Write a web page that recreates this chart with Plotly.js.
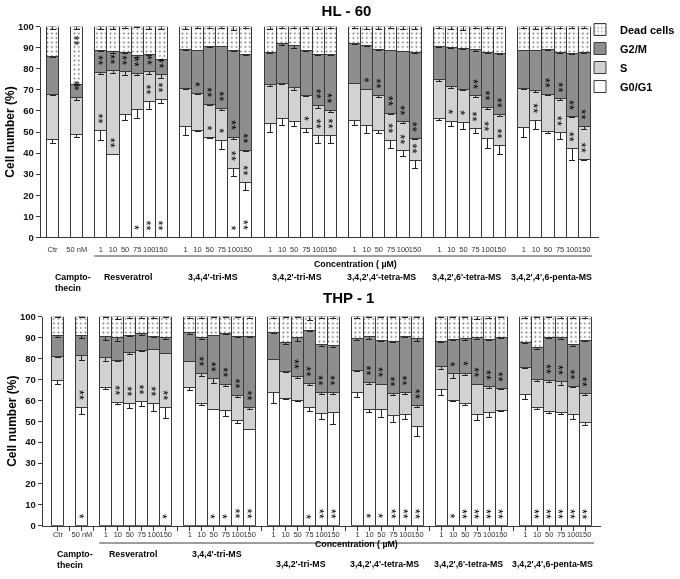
<!DOCTYPE html>
<html><head><meta charset="utf-8">
<script src="https://cdn.plot.ly/plotly-3.0.1.min.js"></script>
<style>html,body{margin:0;padding:0;background:#fff}#chart{width:680px;height:579px;filter:grayscale(100%)}</style>
</head><body><div id="chart"></div>
<script>
// ---------- categories ----------
const concentrations = ['1','10','50','75','100','150'];
const groupConcs = [['Ctr'], ['50 nM'], concentrations, concentrations, concentrations, concentrations, concentrations, concentrations];
const groupLabels = ['', 'Campto-<br>thecin', 'Resveratrol', "3,4,4'-tri-MS", "3,4,2'-tri-MS", "3,4,2',4'-tetra-MS", "3,4,2',6'-tetra-MS", "3,4,2',4',6-penta-MS"];
const phaseNames = ['G0/G1', 'S', 'G2/M', 'Dead cells'];

// ---------- HL-60 (% of cells per phase) ----------
const hl60_G0  = [46.5,48.9,50.5,39.4,58.5,60.9,64.6,65.5,52.5,50.5,47.5,46.2,32.8,25.9,54.1,56.5,54.9,51.7,48.3,48.3,55.7,53.0,50.9,45.9,41.1,36.7,56.2,54.9,54.4,51.7,47.0,43.5,52.1,55.4,50.2,49.8,42.2,37.0];
const hl60_S   = [21.1,17.4,27.7,39.7,20.1,16.9,14.0,11.6,18.2,17.9,15.6,15.0,14.7,15.2,18.5,16.6,16.1,15.5,14.2,12.1,17.4,17.3,16.3,13.0,13.8,10.3,18.8,16.6,16.0,15.4,14.6,14.6,18.6,14.5,17.7,15.9,15.1,15.8];
const hl60_G2M = [18.4,6.3,10.7,9.0,9.2,8.3,8.3,7.4,18.5,20.5,27.4,29.6,41.1,45.5,15.2,18.7,20.3,21.4,24.4,26.2,18.7,20.7,22.0,30.0,33.5,40.8,15.5,18.5,19.3,22.1,26.2,29.2,18.2,19.0,21.5,22.1,30.0,35.0];
const hl60_Dead= [14.0,27.4,11.1,11.9,12.2,13.9,13.1,15.5,10.8,11.1,9.5,9.2,11.4,13.4,12.2,8.2,8.7,11.4,13.1,13.4,8.2,9.0,10.8,11.1,11.6,12.2,9.5,10.0,10.3,10.8,12.2,12.7,11.1,11.1,10.6,12.2,12.7,12.2];
const hl60_errG0  = [1.9,1.4,4.6,0.3,3.2,4.6,3.8,2.2,4.3,0.3,0.5,4.3,4.0,3.5,4.4,3.6,2.4,1.9,3.6,3.6,2.5,3.6,1.6,3.6,2.8,4.0,0.5,2.4,3.2,2.4,4.7,4.0,4.7,4.4,0.8,3.3,5.5,0.3];
const hl60_errS   = [0.5,1.3,1.1,1.3,2.0,0.8,1.1,1.6,0.3,0.8,0.3,0.8,0.9,0.5,0.8,0.5,1.1,0.5,1.3,1.1,0.3,0.3,0.8,0.4,0.8,0.5,1.1,0.8,0.5,0.8,0.8,0.8,0.5,1.1,0.6,0.9,0.3,1.4];
const hl60_errG2M = [0.5,0.5,0.6,0.8,0.5,0.5,0.6,0.5,0.4,0.3,0.3,0.3,0.5,0.4,0.5,0.5,1.6,0.5,0.6,0.5,0.3,0.4,0.3,0.3,0.4,0.4,0.3,0.4,0.4,0.8,0.3,0.4,0.3,0.3,0.8,0.3,0.4,0.4];
const hl60_errDead= [1.5,1.5,1.5,1.2,1.0,0.3,1.3,1.3,1.5,1.0,1.0,1.0,1.8,1.0,1.3,1.0,1.0,0.8,1.3,1.0,1.0,1.3,1.3,1.0,1.5,1.2,0.8,1.3,1.6,1.0,1.0,1.0,1.0,1.3,1.0,1.0,1.0,1.0];
const hl60_sigG0  = ['','','','','','*','**','**','','','','','*','**','','','','','','','','','','','','','','','','','','','','','','','',''];
const hl60_sigS   = ['','','**','**','','','**','**','','','*','*','**','**','','','','*','**','**','','','','**','**','**','','*','*','**','**','**','','**','','**','**','**'];
const hl60_sigG2M = ['','**','**','**','**','**','**','**','','*','**','**','**','**','','','','','**','**','','*','**','**','**','**','','','','**','**','**','','','**','**','**','**'];
const hl60_sigDead= ['','**','','','','','','','','','','','','','','','','','','','','','','','','','','','','','','','','','','','',''];

// ---------- THP-1 ----------
const thp1_G0  = [69.4,56.6,66.0,58.9,58.5,59.3,58.5,56.6,66.0,58.5,55.8,55.0,50.1,46.1,63.8,60.9,59.8,56.6,53.7,54.2,63.8,55.8,55.8,52.6,53.3,47.4,65.2,60.1,58.5,53.3,54.1,55.0,62.8,56.5,54.5,54.2,53.0,49.4];
const thp1_S   = [11.5,24.7,14.4,20.0,24.4,24.4,25.9,25.9,12.8,14.4,14.4,12.6,12.1,10.4,15.8,12.8,11.8,11.5,10.1,9.6,10.7,12.8,12.0,10.7,10.5,10.0,10.9,12.5,14.4,14.5,12.4,10.7,13.0,13.5,14.9,14.7,13.8,13.9];
const thp1_G2M = [10.0,9.9,10.0,11.2,8.0,8.3,6.0,7.5,13.7,17.2,21.0,24.4,28.2,33.9,12.9,13.9,18.5,25.5,23.1,22.2,15.1,22.1,21.0,24.7,26.6,32.2,11.9,16.6,16.7,22.2,22.7,24.4,11.9,15.3,20.7,21.2,20.0,25.5];
const thp1_Dead= [9.1,8.8,9.6,9.9,9.1,8.0,9.6,10.0,7.5,9.9,8.8,8.0,9.6,9.6,7.5,12.4,9.9,6.4,13.1,14.0,10.4,9.3,11.2,12.0,9.6,10.4,12.0,10.8,10.4,10.0,10.8,9.9,12.3,14.7,9.9,9.9,13.2,11.2];
const thp1_errG0  = [1.6,3.2,0.6,0.8,2.4,2.4,3.7,5.3,1.4,0.8,0.3,2.6,1.1,0.3,5.3,0.3,0.5,1.8,2.7,5.7,2.6,1.6,4.1,3.2,2.7,4.8,2.7,0.8,0.8,3.0,2.4,0.3,2.4,0.8,0.8,0.8,2.4,1.3];
const thp1_errS   = [0.5,2.1,1.6,0.3,1.0,0.3,0.3,0.3,0.3,1.6,2.1,1.1,1.0,1.1,0.3,0.3,1.4,0.8,0.8,1.0,0.8,0.8,0.3,0.8,1.0,0.8,1.3,2.1,0.8,0.3,0.8,0.3,0.5,1.1,0.8,1.6,0.8,0.8];
const thp1_errG2M = [1.0,1.6,1.6,1.8,0.6,0.8,0.5,0.8,1.0,1.0,0.3,0.3,0.5,0.5,0.5,0.8,1.8,0.5,1.3,0.8,0.8,1.4,0.5,0.5,0.5,1.3,0.5,0.8,1.1,0.8,0.8,0.5,0.3,0.8,0.3,1.0,1.1,0.8];
const thp1_errDead= [0.5,0.5,0.5,1.5,1.0,1.0,1.0,0.5,1.0,1.0,0.5,0.5,0.5,1.0,1.0,0.5,0.5,1.6,1.0,1.0,0.8,0.5,0.5,0.5,0.5,0.3,0.5,0.5,0.5,1.1,1.0,0.3,0.8,0.3,0.3,0.8,0.8,0.8];
const thp1_sigG0  = ['','*','','','','','','*','','','*','*','**','**','','','','*','**','**','','*','*','**','**','**','','*','**','**','**','**','','**','**','**','**','**'];
const thp1_sigS   = ['','**','','**','**','**','**','**','','','','','','','','','','','','','','','','','','','','','','','','','','','','','',''];
const thp1_sigG2M = ['','','','','','','','','','**','**','**','**','**','','','**','**','**','**','','**','**','**','**','**','','*','*','**','**','**','','','**','**','**','**'];
const thp1_sigDead= ['','','','','','','','','','','','','','','','','','','','','','','','','','','','','','','','','','','','','',''];

// ---------- build slot positions (one empty slot between groups) ----------
const xPos = [], tickText = [], gapPos = [], groupCenters = [];
let slot = 0;
groupConcs.forEach(cs => {
  const start = slot;
  cs.forEach(c => { xPos.push(slot); tickText.push(c); slot++; });
  groupCenters.push((start + slot - 1) / 2);
  gapPos.push(slot); slot++;
});
const gapTicks = gapPos.slice(0, -1);

const FONT = 'Liberation Sans, Arial, Helvetica, sans-serif';
const NARROW = 'Liberation Sans Narrow, Arial Narrow, Liberation Sans, Arial, sans-serif';
const LINE = '#3a3a3a';
const fills = ['#ffffff', '#d2d2d2', '#8e8e8e', '#ffffff'];

function makeTraces(segs, errs, xa, ya, showLeg) {
  return segs.map((vals, k) => {
    const t = {
      type: 'bar', x: xPos, y: vals, width: 1, xaxis: xa, yaxis: ya, name: phaseNames[k],
      showlegend: showLeg,
      marker: {color: fills[k], line: {color: LINE, width: 1}},
      error_y: {type: 'data', symmetric: false, array: errs[k].map(() => 0), arrayminus: errs[k],
                color: '#222', thickness: 1, width: 3},
      hoverinfo: 'skip'
    };
    if (k === 3) t.marker.pattern = {shape: '.', fgcolor: '#666', bgcolor: '#ffffff', size: 4.5, solidity: 0.12, fillmode: 'replace'};
    return t;
  });
}

function starAnnotations(segs, sigs, xref, yref) {
  const out = [];
  xPos.forEach((xv, i) => {
    let base = 0;
    segs.forEach((vals, k) => {
      const s = sigs[k][i];
      if (s) {
        const top = k === 3;
        out.push({x: xv, y: top ? base + vals[i] : base, xref, yref, text: s, textangle: 90,
                  showarrow: false, yanchor: top ? 'top' : 'bottom', yshift: top ? -8 : 6, xshift: -2.5,
                  borderpad: 0, font: {size: 13, color: '#000', family: FONT}});
      }
      base += vals[i];
    });
  });
  return out;
}

const hlSegs = [hl60_G0, hl60_S, hl60_G2M, hl60_Dead];
const thSegs = [thp1_G0, thp1_S, thp1_G2M, thp1_Dead];
const traces = [
  ...makeTraces(hlSegs, [hl60_errG0, hl60_errS, hl60_errG2M, hl60_errDead], 'x', 'y', true),
  ...makeTraces(thSegs, [thp1_errG0, thp1_errS, thp1_errG2M, thp1_errDead], 'x2', 'y2', false)
];

const W = 680, H = 579;
const px = v => v / W, py = v => 1 - v / H;
const labFont = {size: 8.8, weight: 'bold', family: FONT};

function groupAnns(xref, yRowLeft, yRowRight, campShift) {
  const a = [];
  groupLabels.forEach((g, i) => {
    if (!g) return;
    if (i === 1) {
      a.push({x: 0, xref, y: py(yRowLeft), yref: 'paper', text: g, showarrow: false, xanchor: 'left', yanchor: 'top',
              xshift: campShift, align: 'left', font: labFont});
    } else {
      a.push({x: groupCenters[i], xref, y: py(i <= 3 ? yRowLeft : yRowRight), yref: 'paper', text: g, showarrow: false,
              xanchor: 'center', yanchor: 'top', xshift: -3, font: labFont});
    }
  });
  return a;
}

const annotations = [
  {x: px(349), y: py(297), xref: 'paper', yref: 'paper', text: 'THP - 1', showarrow: false, font: {size: 15, weight: 'bold', family: FONT}},
  {x: px(356), y: py(264), xref: 'paper', yref: 'paper', text: 'Concentration ( µM)', showarrow: false, font: labFont},
  {x: px(357), y: py(551), xref: 'paper', yref: 'paper', text: 'Concentration ( µM)', showarrow: false, font: labFont},
  ...groupAnns('x', 269.5, 269.5, 0),
  ...groupAnns('x2', 547, 557, -3),
  ...starAnnotations(hlSegs, [hl60_sigG0, hl60_sigS, hl60_sigG2M, hl60_sigDead], 'x', 'y'),
  ...starAnnotations(thSegs, [thp1_sigG0, thp1_sigS, thp1_sigG2M, thp1_sigDead], 'x2', 'y2')
];

const shapes = [
  {type: 'line', xref: 'x', yref: 'paper', x0: 3.45, x1: 44.65, y0: py(256), y1: py(256), line: {color: LINE, width: 1}},
  {type: 'line', xref: 'x2', yref: 'paper', x0: 3.45, x1: 44.75, y0: py(543), y1: py(543), line: {color: LINE, width: 1}}
];

const xDomHL = [px(40.7), px(600)], xDomTH = [px(42.7), px(601.7)];
const yTicks = {tickmode: 'linear', tick0: 0, dtick: 10, ticks: 'outside', ticklen: 4, tickwidth: 1, tickcolor: LINE,
  showline: true, linecolor: LINE, linewidth: 1, showgrid: false, zeroline: false, range: [0, 100],
  tickfont: {size: 9.5, weight: 'bold', family: FONT, color: '#111'},
  title: {text: 'Cell number (%)', font: {size: 12, weight: 'bold', family: FONT}, standoff: 0}};
const xCommon = {tickmode: 'array', tickvals: xPos, ticktext: tickText, ticks: '', tickangle: 0, showline: true, linecolor: LINE,
  linewidth: 1, showgrid: false, zeroline: false, tickfont: {size: 7.5, family: NARROW, color: '#333'}};

const layout = {
  width: W, height: H, margin: {l: 0, r: 0, t: 0, b: 0}, paper_bgcolor: '#fff', plot_bgcolor: 'rgba(0,0,0,0)',
  font: {family: FONT, color: '#000'}, barmode: 'stack', bargap: 0,
  title: {text: 'HL - 60', x: px(347), y: py(11), xref: 'paper', yref: 'paper', xanchor: 'center', yanchor: 'middle',
          font: {size: 15, weight: 'bold', family: FONT}},
  xaxis: Object.assign({}, xCommon, {domain: xDomHL, range: [-0.99, 45.23], anchor: 'y', ticklabelstandoff: 5}),
  xaxis3: {overlaying: 'x', anchor: 'y', domain: xDomHL, range: [-0.99, 45.23], tickmode: 'array', tickvals: gapTicks,
           ticks: 'outside', ticklen: 4, tickcolor: LINE, showticklabels: false, showline: false, showgrid: false, zeroline: false},
  yaxis: Object.assign({}, yTicks, {domain: [py(237.3), py(26.7)], anchor: 'x'}),
  xaxis2: Object.assign({}, xCommon, {domain: xDomTH, range: [-1.275, 45.31], anchor: 'y2', ticks: 'outside', ticklen: 4,
           tickcolor: LINE, ticklabelstandoff: -3, tickvals: xPos.concat(gapTicks), ticktext: tickText.concat(gapTicks.map(() => ''))}),
  yaxis2: Object.assign({}, yTicks, {domain: [py(525.7), py(316.7)], anchor: 'x2'}),
  legend: {x: px(581), y: py(15), xanchor: 'left', yanchor: 'top', bgcolor: 'rgba(0,0,0,0)',
           font: {size: 11, weight: 'bold', family: FONT}, itemclick: false, tracegroupgap: 0},
  annotations, shapes
};

Plotly.newPlot('chart', traces, layout, {displayModeBar: false, staticPlot: true});
</script>
</body></html>
